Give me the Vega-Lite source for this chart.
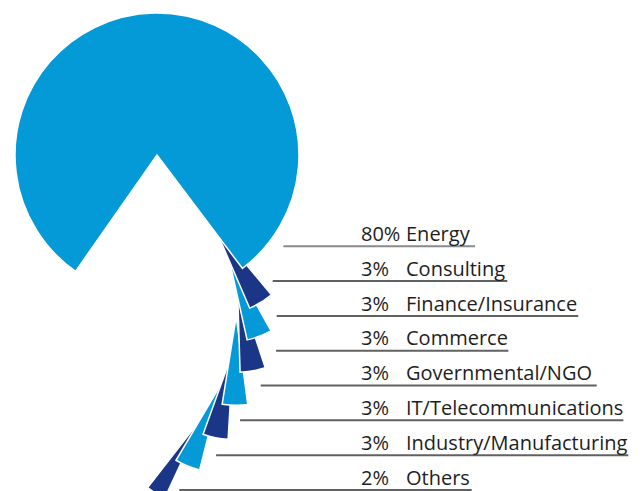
{
  "$schema": "https://vega.github.io/schema/vega-lite/v6.json",
  "width": 643,
  "height": 491,
  "autosize": "none",
  "padding": 0,
  "background": "white",
  "config": {"view": {"stroke": null}},
  "data": {
    "values": [
      {"order": 1, "sector": "Energy", "share": 0.80},
      {"order": 2, "sector": "Consulting", "share": 0.03},
      {"order": 3, "sector": "Finance/Insurance", "share": 0.03},
      {"order": 4, "sector": "Commerce", "share": 0.03},
      {"order": 5, "sector": "Governmental/NGO", "share": 0.03},
      {"order": 6, "sector": "IT/Telecommunications", "share": 0.03},
      {"order": 7, "sector": "Industry/Manufacturing", "share": 0.03},
      {"order": 8, "sector": "Others", "share": 0.02}
    ]
  },
  "layer": [
    {
      "transform": [
        {"stack": "share", "groupby": [], "sort": [{"field": "order", "order": "ascending"}], "as": ["t0", "t1"]},
        {"filter": "datum.sector !== 'Energy'"}
      ],
      "mark": {"type": "arc", "radius": 89, "thetaOffset": -0.05, "theta2Offset": 0.05, "stroke": "white", "strokeWidth": 1.5},
      "encoding": {
        "theta": {"field": "t0", "type": "quantitative", "stack": null, "scale": {"domain": [0, 1], "range": [-2.5307, 3.7525]}},
        "theta2": {"field": "t1"},
        "x": {"field": "order", "type": "quantitative", "axis": null, "scale": {"domain": [1, 2, 3, 4, 5, 6, 7, 8], "range": [157, 214.4, 227.8, 237.4, 236.2, 233.3, 221.4, 202.3], "nice": false, "zero": false}},
        "y": {"field": "order", "type": "quantitative", "axis": null, "scale": {"domain": [1, 2, 3, 4, 5, 6, 7, 8], "range": [155, 226.4, 253, 283.3, 316.3, 350.5, 383.7, 417.3], "nice": false, "zero": false}},
        "color": {"field": "sector", "type": "nominal", "legend": null, "scale": {"domain": ["Consulting", "Finance/Insurance", "Commerce", "Governmental/NGO", "IT/Telecommunications", "Industry/Manufacturing", "Others"], "range": ["#1c3687", "#0499d7", "#1c3687", "#0499d7", "#1c3687", "#0499d7", "#1c3687"]}},
        "order": {"field": "order", "sort": "descending"}
      }
    },
    {
      "transform": [
        {"stack": "share", "groupby": [], "sort": [{"field": "order", "order": "ascending"}], "as": ["t0", "t1"]},
        {"filter": "datum.sector === 'Energy'"}
      ],
      "mark": {"type": "arc", "radius": 142, "stroke": "white", "strokeWidth": 1.5, "fill": "#0499d7"},
      "encoding": {
        "theta": {"field": "t0", "type": "quantitative", "stack": null, "scale": {"domain": [0, 1], "range": [-2.5307, 3.7525]}},
        "theta2": {"field": "t1"},
        "x": {"field": "order", "type": "quantitative", "axis": null, "scale": {"domain": [1, 2, 3, 4, 5, 6, 7, 8], "range": [157, 214.4, 227.8, 237.4, 236.2, 233.3, 221.4, 202.3], "nice": false, "zero": false}},
        "y": {"field": "order", "type": "quantitative", "axis": null, "scale": {"domain": [1, 2, 3, 4, 5, 6, 7, 8], "range": [155, 226.4, 253, 283.3, 316.3, 350.5, 383.7, 417.3], "nice": false, "zero": false}}
      }
    },
    {
      "mark": {"type": "tick", "orient": "horizontal", "thickness": 2},
      "encoding": {
        "x": {"field": "order", "type": "quantitative", "axis": null, "scale": {"domain": [1, 2, 3, 4, 5, 6, 7, 8], "range": [379.2, 390, 427.5, 392.2, 428.7, 431.7, 422.2, 325.5], "nice": false, "zero": false}},
        "y": {"field": "order", "type": "quantitative", "axis": null, "scale": {"domain": [1, 8], "range": [246.3, 490], "nice": false, "zero": false}},
        "size": {"field": "order", "type": "quantitative", "legend": null, "scale": {"domain": [1, 2, 3, 4, 5, 6, 7, 8], "range": [191.7, 234.6, 301.6, 232.3, 336, 383.3, 412.3, 292.4], "nice": false, "zero": false}},
        "color": {"condition": {"test": "datum.sector === 'Energy'", "value": "#58595b"}, "value": "#1e1e1e"}
      }
    },
    {
      "mark": {"type": "text", "align": "left", "baseline": "alphabetic", "x": 361, "font": "Open Sans", "fontSize": 20, "color": "#1e1e1e"},
      "encoding": {
        "y": {"field": "order", "type": "quantitative", "axis": null, "scale": {"domain": [1, 8], "range": [240.7, 485], "nice": false, "zero": false}},
        "text": {"field": "share", "type": "quantitative", "format": ".0%"}
      }
    },
    {
      "mark": {"type": "text", "align": "left", "baseline": "alphabetic", "x": 406, "font": "Open Sans", "fontSize": 20, "color": "#1e1e1e"},
      "encoding": {
        "y": {"field": "order", "type": "quantitative", "axis": null, "scale": {"domain": [1, 8], "range": [240.7, 485], "nice": false, "zero": false}},
        "text": {"field": "sector", "type": "nominal"}
      }
    }
  ],
  "resolve": {"scale": {"x": "independent", "y": "independent", "theta": "independent", "color": "independent", "size": "independent"}}
}
